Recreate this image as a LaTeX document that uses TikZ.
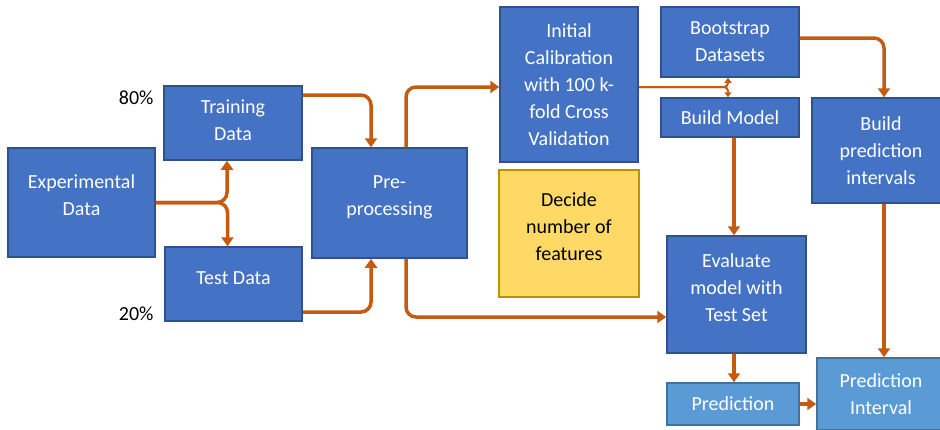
\documentclass[tikz,border=0pt]{standalone}
\usepackage{fontspec}
\setmainfont{Carlito}
\usepackage{tikz}
\usetikzlibrary{positioning,arrows.meta,calc}
\definecolor{boxblue}{RGB}{68,114,196}
\definecolor{boxedge}{RGB}{47,82,143}
\definecolor{lightblue}{RGB}{91,155,213}
\definecolor{lightedge}{RGB}{65,113,156}
\definecolor{floworange}{RGB}{197,90,17}
\definecolor{noteyellow}{RGB}{255,217,102}
\definecolor{noteedge}{RGB}{191,144,0}

\begin{document}
\begin{tikzpicture}[x=1pt, y=-1pt]
    \tikzstyle{stage} = [rectangle, inner sep=0pt, align=center, draw=boxedge, line width=1.5pt, fill=boxblue, text=white, font=\fontsize{20}{27}\selectfont]
    \tikzstyle{result} = [stage, draw=lightedge, fill=lightblue]
    \tikzstyle{note} = [stage, draw=noteedge, fill=noteyellow, text=black]
    \tikzstyle{raised} = [text depth=14pt]
    \tikzstyle{share} = [font=\fontsize{20}{27}\selectfont, anchor=base east]
    \tikzstyle{flow} = [draw=floworange, line width=3.5pt, rounded corners=10pt, -{Triangle[length=9pt,width=12pt]}]
    \tikzstyle{twig} = [flow, line width=2pt, rounded corners=4pt, -{Triangle[length=5pt,width=7pt]}]

    \useasboundingbox (0,0) rectangle (940,429);

    % Data split
    \node [stage, raised, minimum width=147pt, minimum height=109pt] (experimental) at (81.5,202.5) {Experimental\\Data};
    \node [stage, text depth=5pt, minimum width=138pt, minimum height=74pt] (training) at (233,123) {Training\\Data};
    \node [stage, text depth=12pt, minimum width=137pt, minimum height=74pt] (test) at (233.5,284) {Test Data};
    \node [share] (share80) at (157,104) {80\%};
    \node [share] (share20) at (157,320) {20\%};

    % Calibration
    \node [stage, raised, minimum width=155pt, minimum height=110pt] (preprocessing) at (389.5,203) {Pre-\\processing};
    \node [stage, minimum width=138pt, minimum height=155pt] (calibration) at (569,84.5) {Initial\\Calibration\\with 100 k-\\fold Cross\\Validation};
    \node [note, raised, minimum width=140pt, minimum height=127pt] (features) at (569,233.5) {Decide\\number of\\features};

    % Bootstrap and model
    \node [stage, minimum width=138pt, minimum height=70pt] (bootstrap) at (730,42) {Bootstrap\\Datasets};
    \node [stage, minimum width=138pt, minimum height=39pt] (buildmodel) at (730,117.5) {Build Model};
    \node [stage, minimum width=138pt, minimum height=105pt] (intervals) at (881,150.5) {Build\\prediction\\intervals};
    \node [stage, raised, minimum width=139pt, minimum height=117pt] (evaluate) at (736.5,294.5) {Evaluate\\model with\\Test Set};
    \node [result, minimum width=132pt, minimum height=42pt] (prediction) at (733,404) {Prediction};
    \node [result, minimum width=128pt, minimum height=72pt] (predinterval) at (881,394) {Prediction\\Interval};

    % Arrows
    \draw [flow] (experimental.east) -| ([xshift=-6pt]training.south);
    \draw [flow] (experimental.east) -| ([xshift=-6pt]test.north);
    \draw [flow] ([yshift=28pt]training.east) -| ([xshift=-18.5pt]preprocessing.north);
    \draw [flow] ([yshift=-28pt]test.east) -| ([xshift=-18.5pt]preprocessing.south);
    \draw [flow] ([xshift=16.5pt]preprocessing.north) |- ([yshift=-2.5pt]calibration.west);
    \draw [flow] ([xshift=16.5pt]preprocessing.south) |- ([yshift=-22.5pt]evaluate.west);
    \draw [twig] ([yshift=-2.5pt]calibration.east) -| ([xshift=-2pt]bootstrap.south);
    \draw [twig] ([yshift=-2.5pt]calibration.east) -| ([xshift=-2pt]buildmodel.north);
    \draw [flow] ([yshift=4pt]bootstrap.east) -| ([xshift=3pt]intervals.north);
    \draw [flow] ([xshift=4pt]buildmodel.south) -- ([xshift=4pt]buildmodel.south |- evaluate.north);
    \draw [flow] ([xshift=3pt]intervals.south) -- ([xshift=3pt]intervals.south |- predinterval.north);
    \draw [flow] ([xshift=-2.5pt]evaluate.south) -- ([xshift=-2.5pt]evaluate.south |- prediction.north);
    \draw [flow] (prediction.east) -- (prediction.east -| predinterval.west);
\end{tikzpicture}
\end{document}
